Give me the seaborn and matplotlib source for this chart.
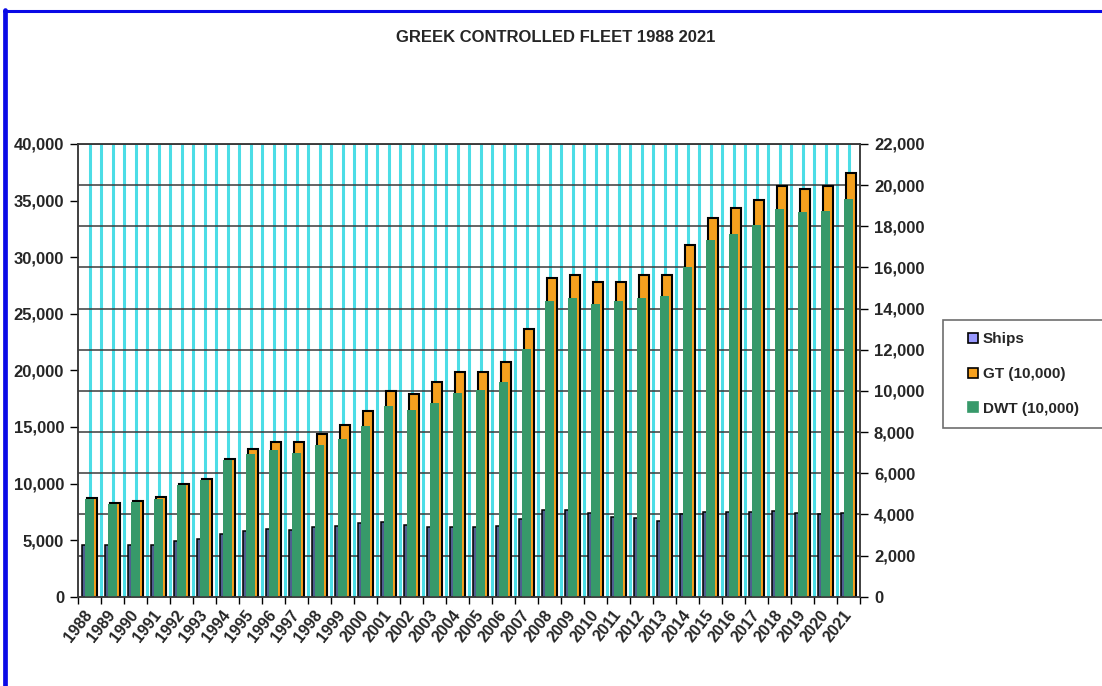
import numpy as np
import pandas as pd
import matplotlib
matplotlib.use("Agg")
import matplotlib.pyplot as plt
from matplotlib.lines import Line2D
from matplotlib.patches import Rectangle
from matplotlib.ticker import FuncFormatter, FixedLocator
from matplotlib.transforms import ScaledTranslation
import seaborn as sns

# ---- data -------------------------------------------------------------
years = list(range(1988, 2022))

ships = [2510, 2490, 2490, 2510, 2720, 2790, 3045, 3190, 3290, 3240,
         3400, 3450, 3595, 3645, 3480, 3400, 3400, 3400, 3450, 3760,
         4210, 4210, 4050, 3885, 3810, 3690, 4000, 4100, 4100, 4100,
         4160, 4050, 4000, 4050]

gt_10k = [4780, 4565, 4665, 4825, 5460, 5715, 6670, 7190, 7530, 7530,
          7900, 8355, 9020, 9990, 9845, 10410, 10930, 10930, 11385, 12990,
          15465, 15610, 15300, 15300, 15610, 15610, 17115, 18425, 18895, 19270,
          19960, 19815, 19960, 20595]

dwt_10k = [8605, 8190, 8395, 8660, 9845, 10310, 12050, 12610, 12960, 12725,
           13405, 13910, 15085, 16850, 16495, 17140, 17970, 18265, 19000, 21860,
           26130, 26365, 25865, 26130, 26420, 26570, 29160, 31520, 32050, 32845,
           34230, 33965, 34105, 35115]

series_labels = ["Ships", "GT (10,000)", "DWT (10,000)"]
title_text = "GREEK CONTROLLED FLEET 1988 2021"

df = pd.DataFrame({"year": years, "ships": ships, "gt": gt_10k, "dwt": dwt_10k})

# ---- style ------------------------------------------------------------
sns.set_theme(style="white")
plt.rcParams["font.family"] = ["Liberation Sans", "DejaVu Sans"]

C_SHIPS = "#4f5f90"
C_SHIPS_KEY = "#9999FF"
C_GT = "#F5A01E"
C_DWT = "#37996A"
C_GRID_V = "#4CDDE6"
C_GRID_H = "#3a3a3a"

W, H = 1102, 686
fig = plt.figure(figsize=(W / 100, H / 100), dpi=100)
fig.patch.set_facecolor("white")

left, right, bottom, top = 78 / W, 860 / W, 1 - 596.7 / H, 1 - 144 / H
ax = fig.add_axes([left, bottom, right - left, top - bottom])   # DWT, left scale
ax2 = ax.twinx()                                                # Ships & GT, right scale

# DWT drawn on top of the right-scale bars
ax2.set_zorder(1)
ax.set_zorder(2)
ax.patch.set_visible(False)

# background grid on the rear axes
for k in range(1, 2 * len(years)):
    ax2.axvline(years[0] - 0.5 + 0.5 * k, color=C_GRID_V, lw=2.2, zorder=0.2)
for v in range(2000, 22001, 2000):
    ax2.axhline(v, color=C_GRID_H, lw=1.1, zorder=0.4)

# bars
sns.barplot(x=df["year"] - 0.245, y=df["ships"], native_scale=True, orient="x",
            width=0.17, color=C_SHIPS, saturation=1, edgecolor="black",
            linewidth=1.1, errorbar=None, ax=ax2)
sns.barplot(x=df["year"] + 0.11, y=df["gt"], native_scale=True, orient="x",
            width=0.42, color=C_GT, saturation=1, edgecolor="black",
            linewidth=1.5, errorbar=None, ax=ax2)
sns.barplot(x=df["year"] + 0.01, y=df["dwt"], native_scale=True, orient="x",
            width=0.41, color=C_DWT, saturation=1, linewidth=0,
            errorbar=None, ax=ax)

# scales
ax.set_xlim(years[0] - 0.5, years[-1] + 0.5)
ax2.set_xlim(years[0] - 0.5, years[-1] + 0.5)
ax.set_ylim(0, 40000)
ax2.set_ylim(0, 22000)
ax.yaxis.set_major_locator(FixedLocator(np.arange(0, 40001, 5000)))
ax2.yaxis.set_major_locator(FixedLocator(np.arange(0, 22001, 2000)))
fmt = FuncFormatter(lambda v, p: f"{int(v):,}")
ax.yaxis.set_major_formatter(fmt)
ax2.yaxis.set_major_formatter(fmt)

ax.set_xticks(np.arange(years[0] - 0.5, years[-1] + 0.51, 1.0))
ax.set_xticklabels([])
ax.set_xticks(years, minor=True)
ax.set_xticklabels([str(y) for y in years], minor=True, rotation=52,
                   ha="right", va="center", rotation_mode="anchor",
                   fontsize=11.5, fontweight="bold")
shift = ScaledTranslation(6 / 100, 0, fig.dpi_scale_trans)
for lab in ax.get_xticklabels(minor=True):
    lab.set_transform(lab.get_transform() + shift)
ax.tick_params(axis="x", which="major", length=5, width=1, color="black",
               direction="out", bottom=True)
ax.tick_params(axis="x", which="minor", length=0, pad=11, bottom=True)
ax.tick_params(axis="y", which="major", length=6, width=1, color="black",
               direction="out", left=True, pad=4, labelsize=12)
ax2.tick_params(axis="y", which="major", length=6, width=1, color="black",
                direction="out", right=True, pad=4, labelsize=12)
for lab in ax.get_yticklabels() + ax2.get_yticklabels():
    lab.set_fontweight("bold")
ax.set_xlabel("")
ax.set_ylabel("")
ax2.set_ylabel("")
ax.grid(False)
ax2.grid(False)

for a in (ax, ax2):
    for s in a.spines.values():
        s.set_color(C_GRID_H)
        s.set_linewidth(1.1)
        s.set_visible(True)

# title
fig.text(556 / W, 1 - 37 / H, title_text, ha="center", va="center",
         fontsize=12, fontweight="bold",
         family=["Liberation Sans Narrow", "Liberation Sans", "DejaVu Sans"])

# legend
fig.add_artist(Rectangle((943 / W, 1 - 428 / H), 200 / W, 108 / H,
                         transform=fig.transFigure, facecolor="white",
                         edgecolor="#6e6e6e", lw=1.2))
handles = [
    Line2D([], [], marker="s", ls="", markersize=7, markerfacecolor=C_SHIPS_KEY,
           markeredgecolor="black", markeredgewidth=1.2),
    Line2D([], [], marker="s", ls="", markersize=7, markerfacecolor=C_GT,
           markeredgecolor="black", markeredgewidth=1.2),
    Line2D([], [], marker="s", ls="", markersize=7, markerfacecolor=C_DWT,
           markeredgecolor=C_DWT, markeredgewidth=1.2),
]
fig.legend(handles, series_labels, loc="center left",
           bbox_to_anchor=(962 / W, 1 - 374 / H), frameon=False,
           handlelength=0.7, handletextpad=0.25, labelspacing=1.35,
           borderaxespad=0, prop={"weight": "bold", "size": 11})

# page frame (blue rule on top and left)
fig.add_artist(Line2D([4 / W, 1], [1 - 11 / H, 1 - 11 / H], color="#0a0ae6",
                      lw=2.2, transform=fig.transFigure))
fig.add_artist(Line2D([5 / W, 5 / W], [0, 1 - 10 / H], color="#0a0ae6",
                      lw=3.4, transform=fig.transFigure))

fig.savefig("out.png", dpi=100, facecolor="white")
